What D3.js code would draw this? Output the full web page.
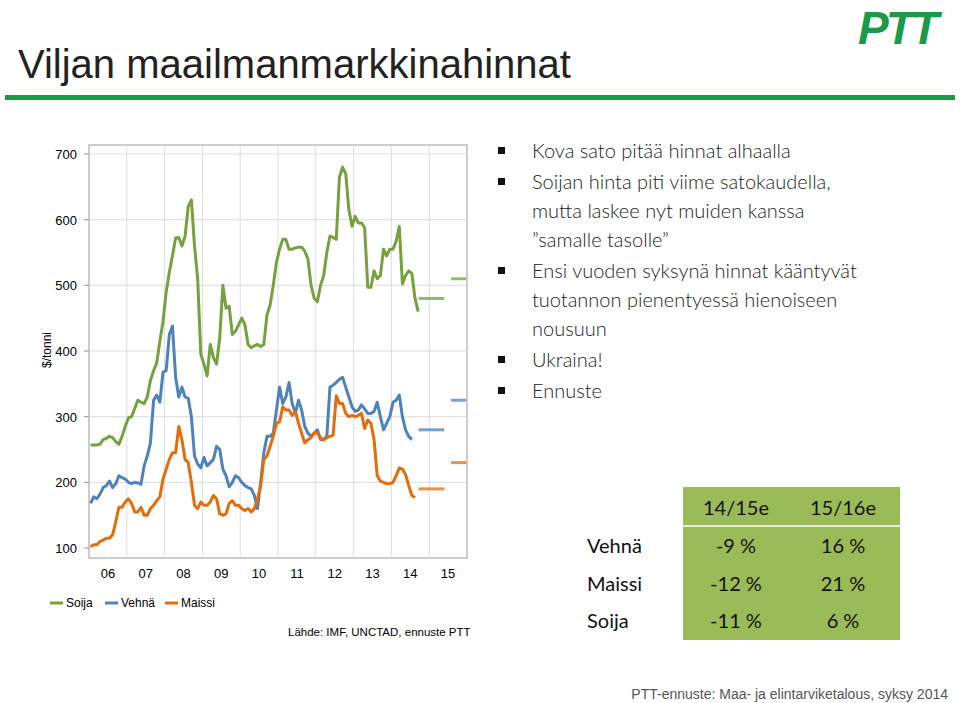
<!DOCTYPE html><html><head><meta charset="utf-8">
<script src="https://cdn.jsdelivr.net/npm/d3@7"></script>
<style>body{margin:0;background:#fff}svg{font-family:"Liberation Sans",Arial,sans-serif}</style></head><body>
<svg id="c" width="960" height="703"></svg>
<script>
const years=["06","07","08","09","10","11","12","13","14","15"];
const yTicks=[100,200,300,400,500,600,700];
const soija=[257,257,257,258,265,267,270,268,262,258,270,285,
298,300,312,325,322,320,330,355,370,382,415,445,
490,520,545,572,573,560,575,620,630,560,510,395,
380,362,410,390,380,420,500,465,468,425,430,440,
450,440,410,405,408,410,407,410,455,470,500,535,
555,570,570,555,555,557,558,558,552,540,500,480,
475,500,515,550,575,573,570,665,680,670,615,590,
605,595,595,588,497,497,522,510,515,555,545,555,
555,567,590,502,515,522,518,480,460];
const vehna=[168,178,175,182,192,195,202,192,198,210,207,205,
200,198,200,199,197,225,240,260,325,333,322,368,
370,425,438,360,330,345,330,328,300,240,228,222,
238,225,230,235,255,250,220,210,193,200,210,207,
200,195,192,190,180,160,200,245,270,270,275,310,
345,320,330,352,320,305,325,310,285,275,270,275,
280,265,265,270,345,348,352,357,360,345,330,315,
308,310,318,312,305,305,308,322,300,280,290,300,
322,325,333,300,280,270,265];
const maissi=[102,105,105,110,112,115,115,120,140,162,162,170,
175,168,155,155,162,150,150,160,165,172,178,205,
220,235,245,245,285,265,235,230,200,165,160,170,
165,165,170,180,175,152,150,152,168,172,165,165,
160,157,160,155,160,175,195,235,240,255,270,290,
292,315,310,310,302,308,290,275,260,265,268,275,
275,268,265,268,270,272,332,320,320,305,300,302,
300,302,305,282,295,290,265,210,202,200,198,198,
200,210,222,220,212,195,180,177];
const fc1={Soija:480,"Vehnä":280,Maissi:190};
const fc2={Soija:510,"Vehnä":325,Maissi:230};
const colors={Soija:"#77a03f","Vehnä":"#4f81bd",Maissi:"#e46c0a"};
const rows=[["Vehnä","-9 %","16 %"],["Maissi","-12 %","21 %"],["Soija","-11 %","6 %"]];
const hdr=["14/15e","15/16e"];
const bullets=[["Kova sato pitää hinnat alhaalla"],["Soijan hinta piti viime satokaudella,","mutta laskee nyt muiden kanssa","”samalle tasolle”"],["Ensi vuoden syksynä hinnat kääntyvät","tuotannon pienentyessä hienoiseen","nousuun"],["Ukraina!"],["Ennuste"]];

const svg=d3.select("#c");
svg.append("text").attr("x",18).attr("y",78).attr("font-size",40).attr("fill","#222").text("Viljan maailmanmarkkinahinnat");
svg.append("rect").attr("x",5).attr("y",95).attr("width",950).attr("height",5).attr("fill","#1a9a48");
svg.append("text").attr("x",858).attr("y",44).attr("font-size",46).attr("font-weight","bold").attr("font-style","italic").attr("fill","#1a9a48").attr("letter-spacing",-3).text("PTT");

const L=89,R=467,T=145,B=558;
const x=d3.scaleLinear().domain([0,10]).range([L,R]);
const y=d3.scaleLinear().domain([100,700]).range([548,154]);
svg.append("rect").attr("x",L).attr("y",T).attr("width",R-L).attr("height",B-T).attr("fill","none").attr("stroke","#999");
const g=svg.append("g");
d3.range(1,10).forEach(i=>g.append("line").attr("x1",x(i)).attr("x2",x(i)).attr("y1",T).attr("y2",B).attr("stroke","#ddd"));
yTicks.forEach(v=>{g.append("line").attr("x1",L-4).attr("x2",R).attr("y1",y(v)).attr("y2",y(v)).attr("stroke",v==100?"none":"#ddd");
 g.append("line").attr("x1",L-5).attr("x2",L).attr("y1",y(v)).attr("y2",y(v)).attr("stroke","#999");
 g.append("text").attr("x",77).attr("y",y(v)+5).attr("text-anchor","end").attr("font-size",13).text(v);});
years.forEach((t,i)=>g.append("text").attr("x",x(i+0.5)).attr("y",578).attr("text-anchor","middle").attr("font-size",13).text(t));
svg.append("text").attr("transform","translate(51,350) rotate(-90)").attr("text-anchor","middle").attr("font-size",12).text("$/tonni");
const line=d3.line().x((d,i)=>x((i+0.5)/12)).y(d=>y(d));
[["Soija",soija],["Vehnä",vehna],["Maissi",maissi]].forEach(([n,d])=>{
 g.append("path").attr("d",line(d)).attr("fill","none").attr("stroke",colors[n]).attr("stroke-width",3).attr("stroke-linejoin","round");
 g.append("line").attr("x1",x(8.72)).attr("x2",x(9.4)).attr("y1",y(fc1[n])).attr("y2",y(fc1[n])).attr("stroke",colors[n]).attr("stroke-width",3).attr("opacity",0.75);
 g.append("line").attr("x1",x(9.58)).attr("x2",x(9.98)).attr("y1",y(fc2[n])).attr("y2",y(fc2[n])).attr("stroke",colors[n]).attr("stroke-width",3).attr("opacity",0.75);
});
[["Soija",50],["Vehnä",105],["Maissi",165]].forEach(([n,lx])=>{
 svg.append("line").attr("x1",lx).attr("x2",lx+13).attr("y1",603).attr("y2",603).attr("stroke",colors[n]).attr("stroke-width",3);
 svg.append("text").attr("x",lx+16).attr("y",607).attr("font-size",12).text(n);});
svg.append("text").attr("x",288).attr("y",636).attr("font-size",11.5).text("Lähde: IMF, UNCTAD, ennuste PTT");

let yy=158;
bullets.forEach(b=>{svg.append("rect").attr("x",498).attr("y",yy-11).attr("width",7).attr("height",7).attr("fill","#111");
 b.forEach(t=>{svg.append("text").attr("x",532).attr("y",yy).attr("font-family","Lato,'Open Sans',sans-serif").attr("font-weight",300).attr("font-size",20).attr("fill","#222").text(t);yy+=29;});
 yy+=2;});

svg.append("rect").attr("x",683).attr("y",487).attr("width",217).attr("height",153).attr("fill","#9bbb59");
svg.append("line").attr("x1",683).attr("x2",900).attr("y1",526).attr("y2",526).attr("stroke","#fff").attr("stroke-width",1.5);
const tf="Lato,'Open Sans',sans-serif";
hdr.forEach((h,i)=>svg.append("text").attr("x",[736,843][i]).attr("y",515).attr("text-anchor","middle").attr("font-family",tf).attr("font-size",20).attr("fill","#111").text(h));
rows.forEach((r,j)=>{const ry=553+j*37.5;
 svg.append("text").attr("x",587).attr("y",ry).attr("font-family",tf).attr("font-size",20).attr("fill","#111").text(r[0]);
 [736,843].forEach((cx,i)=>svg.append("text").attr("x",cx).attr("y",ry).attr("text-anchor","middle").attr("font-family",tf).attr("font-size",20).attr("fill","#111").text(r[i+1]));});
svg.append("text").attr("x",948).attr("y",699).attr("text-anchor","end").attr("font-size",14).attr("fill","#555").text("PTT-ennuste: Maa- ja elintarviketalous, syksy 2014");
</script></body></html>
